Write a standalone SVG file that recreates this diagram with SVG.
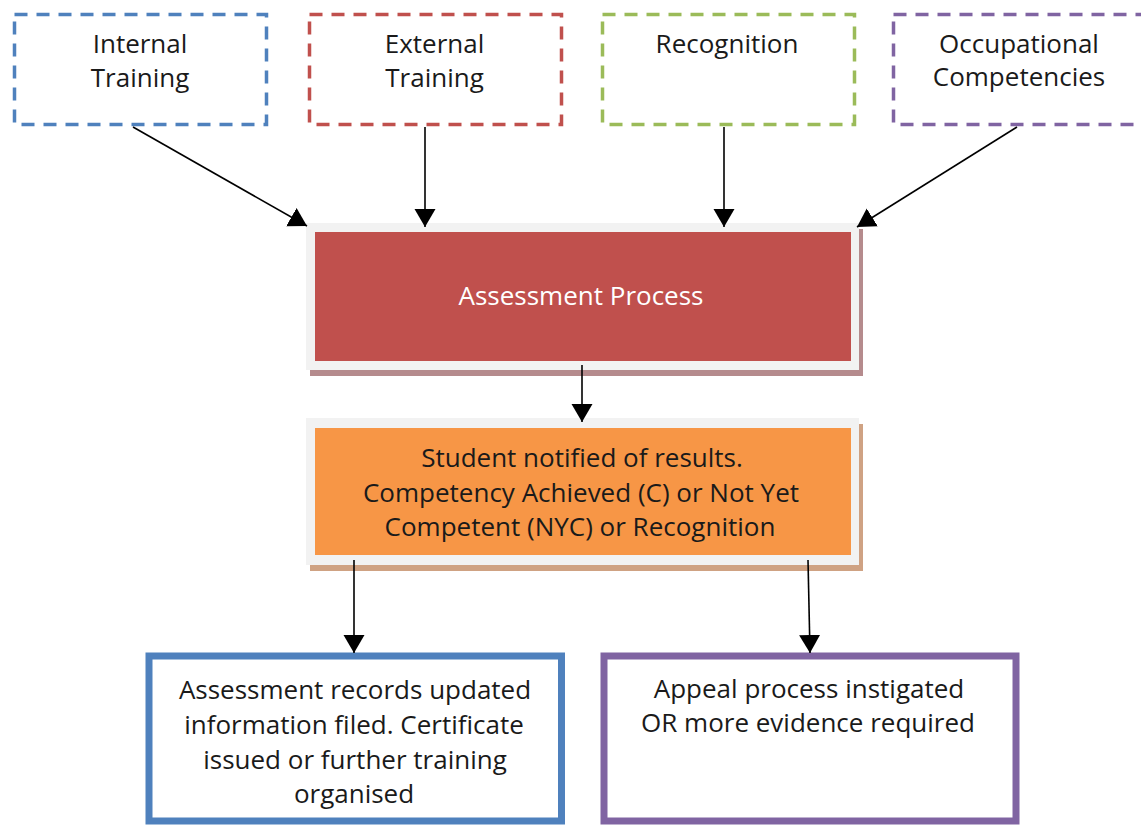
<svg xmlns="http://www.w3.org/2000/svg" width="1141" height="825" viewBox="0 0 1141 825">
  <defs>
    <marker id="arrow" markerUnits="userSpaceOnUse" markerWidth="20" markerHeight="22" refX="18" refY="10.5" orient="auto">
      <path d="M0,0 L18,10.5 L0,21 z" fill="#000"/>
    </marker>
  </defs>
  <style>
    text { font-family: "Open Sans", "Liberation Sans", sans-serif; font-size: 26px; fill: #1a1a1a; text-anchor: middle; }
    .dash { fill: #ffffff; stroke-width: 3.5; stroke-dasharray: 13 9; }
    .frame { fill: #f2f2f2; }
    .conn { stroke: #000; stroke-width: 1.6; fill: none; marker-end: url(#arrow); }
    .solid { fill: #ffffff; stroke-width: 7; }
  </style>
  <rect x="0" y="0" width="1141" height="825" fill="#ffffff"/>

  <g id="internal-training">
    <rect class="dash" x="14.5" y="14.5" width="252" height="110" stroke="#4f81bd"/>
    <text x="140" y="53">Internal</text>
    <text x="140" y="87">Training</text>
  </g>
  <g id="external-training">
    <rect class="dash" x="309.5" y="14.5" width="252" height="110" stroke="#c0504d"/>
    <text x="434.5" y="53">External</text>
    <text x="434.5" y="87">Training</text>
  </g>
  <g id="recognition">
    <rect class="dash" x="602.5" y="14.5" width="252" height="110" stroke="#9bbb59"/>
    <text x="727" y="53">Recognition</text>
  </g>
  <g id="occupational-competencies">
    <rect class="dash" x="893.5" y="14.5" width="252" height="110" stroke="#8064a2"/>
    <text x="1019" y="53">Occupational</text>
    <text x="1019" y="86">Competencies</text>
  </g>

  <g id="assessment-process">
    <rect x="310" y="229" width="553" height="147" fill="#b58b8d"/>
    <rect class="frame" x="306" y="223" width="553" height="147"/>
    <rect x="315" y="232" width="536" height="129" fill="#c0504d"/>
    <text x="581" y="305" style="fill:#ffffff">Assessment Process</text>
  </g>

  <g id="student-notified">
    <rect x="310" y="424" width="553" height="147" fill="#cfa283"/>
    <rect class="frame" x="306" y="418" width="553" height="147"/>
    <rect x="315" y="428" width="536" height="127" fill="#f79646"/>
    <text x="582" y="467">Student notified of results.</text>
    <text x="581" y="502">Competency Achieved (C) or Not Yet</text>
    <text x="580" y="536">Competent (NYC) or Recognition</text>
  </g>

  <g id="records-updated">
    <rect class="solid" x="149" y="656" width="412.5" height="165" stroke="#4f81bd"/>
    <text x="355" y="699">Assessment records updated</text>
    <text x="354" y="734">information filed. Certificate</text>
    <text x="355" y="769">issued or further training</text>
    <text x="354" y="803">organised</text>
  </g>

  <g id="appeal-process">
    <rect class="solid" x="604" y="656" width="412" height="165" stroke="#8064a2"/>
    <text x="809" y="698">Appeal process instigated</text>
    <text x="808" y="732">OR more evidence required</text>
  </g>

  <g id="connectors">
    <line class="conn" x1="133" y1="127" x2="307" y2="226"/>
    <line class="conn" x1="425" y1="127" x2="425" y2="227"/>
    <line class="conn" x1="724" y1="127" x2="724" y2="227"/>
    <line class="conn" x1="1017" y1="127" x2="857" y2="227"/>
    <line class="conn" x1="582" y1="365" x2="582" y2="422"/>
    <line class="conn" x1="354" y1="560" x2="354" y2="653"/>
    <line class="conn" x1="808" y1="560" x2="810" y2="653"/>
  </g>
</svg>
